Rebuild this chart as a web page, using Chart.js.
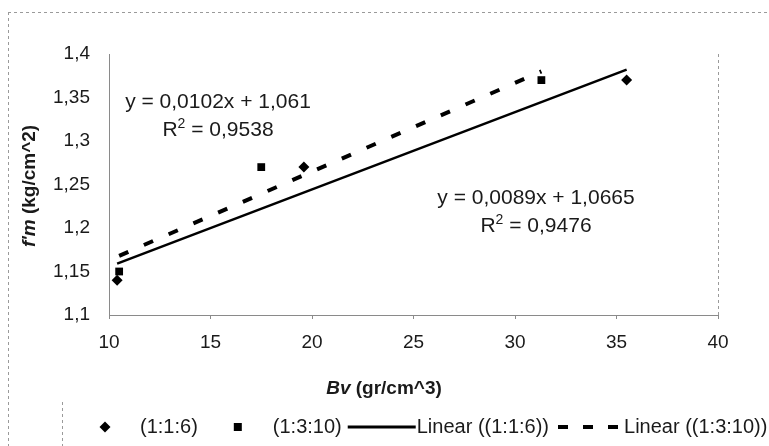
<!DOCTYPE html>
<html>
<head>
<meta charset="utf-8">
<script src="https://cdn.jsdelivr.net/npm/chart.js@4/dist/chart.umd.min.js"></script>
<style>
html,body{margin:0;padding:0;background:#fff;}
#wrap{width:769px;height:446px;position:relative;}
</style>
</head>
<body>
<div id="wrap"><canvas id="c"></canvas></div>
<script>
// ---- data ----
const seriesNames = ['(1:1:6)', '(1:3:10)', 'Linear ((1:1:6))', 'Linear ((1:3:10))'];
const bvA = [10.4, 19.6, 35.5];          // (1:1:6) x
const fmA = [1.14, 1.27, 1.37];          // (1:1:6) y
const bvB = [10.5, 17.5, 31.3];          // (1:3:10) x
const fmB = [1.15, 1.27, 1.37];          // (1:3:10) y
const trendAx = [10.4, 35.5];            // Linear (1:1:6) ends
const trendAy = [1.159, 1.382];
const trendBx = [10.5, 31.3];            // Linear (1:3:10) ends
const trendBy = [1.168, 1.380];
const xTicks = [10, 15, 20, 25, 30, 35, 40];
const yTicks = [1.1, 1.15, 1.2, 1.25, 1.3, 1.35, 1.4];
const eqA = ['y = 0,0089x + 1,0665', '0,9476'];
const eqB = ['y = 0,0102x + 1,061', '0,9538'];

const pts = (xs, ys) => xs.map((x, i) => ({x: x, y: ys[i]}));
const FONT = 'Arial, "Liberation Sans", sans-serif';
const INK = '#1a1a1a';
const fmtNum = v => (Math.round(v * 100) / 100).toString().replace('.', ',');

const overlay = {
  id: 'overlay',
  afterDraw(chart) {
    const ctx = chart.ctx;
    const ca = chart.chartArea;
    ctx.save();
    // scanned frame lines
    ctx.strokeStyle = '#9a9a9a';
    ctx.lineWidth = 1;
    ctx.setLineDash([3, 3]);
    ctx.beginPath();
    ctx.moveTo(8, 12.5); ctx.lineTo(769, 12.5);
    ctx.moveTo(8.5, 12); ctx.lineTo(8.5, 446);
    ctx.moveTo(Math.round(ca.right) + 0.5, ca.top); ctx.lineTo(Math.round(ca.right) + 0.5, ca.bottom);
    ctx.moveTo(62.5, 402); ctx.lineTo(62.5, 446);
    ctx.stroke();
    ctx.setLineDash([]);

    ctx.fillStyle = INK;
    ctx.textBaseline = 'middle';

    // axis titles (mixed italic)
    function mixed(parts, cx, cy) {
      let w = 0;
      parts.forEach(p => { ctx.font = p[1]; w += ctx.measureText(p[0]).width; });
      let x = cx - w / 2;
      parts.forEach(p => { ctx.font = p[1]; ctx.textAlign = 'left'; ctx.fillText(p[0], x, cy); x += ctx.measureText(p[0]).width; });
    }
    mixed([['Bv', 'italic bold 19px ' + FONT], [' (gr/cm^3)', 'bold 19px ' + FONT]], 384, 389);
    ctx.save();
    ctx.translate(30, 186);
    ctx.rotate(-Math.PI / 2);
    mixed([["f'm", 'italic bold 19px ' + FONT], [' (kg/cm^2)', 'bold 19px ' + FONT]], 0, 0);
    ctx.restore();

    // trendline equations
    function eq(lines, cx, cy) {
      ctx.font = '21px ' + FONT;
      ctx.textAlign = 'center';
      ctx.fillText(lines[0], cx, cy);
      const rest = ' = ' + lines[1];
      const wR = ctx.measureText('R').width;
      const wRest = ctx.measureText(rest).width;
      ctx.font = '14px ' + FONT;
      const w2 = ctx.measureText('2').width;
      let x = cx - (wR + w2 + wRest) / 2;
      const y2 = cy + 28;
      ctx.textAlign = 'left';
      ctx.font = '21px ' + FONT;
      ctx.fillText('R', x, y2); x += wR;
      ctx.font = '14px ' + FONT;
      ctx.fillText('2', x, y2 - 6); x += w2;
      ctx.font = '21px ' + FONT;
      ctx.fillText(rest, x, y2);
    }
    eq(eqB, 218, 102);
    eq(eqA, 536, 198);

    // legend (Excel style: 68px sample then label)
    const ly = 427;
    ctx.font = '20px ' + FONT;
    ctx.textAlign = 'left';
    const sampleW = 68, gap = 6;
    let x = 71;
    seriesNames.forEach((name, i) => {
      const cx = x + sampleW / 2;
      ctx.fillStyle = '#000';
      ctx.strokeStyle = '#000';
      if (i === 0) {
        ctx.beginPath();
        ctx.moveTo(cx, ly - 5.5); ctx.lineTo(cx + 5.5, ly); ctx.lineTo(cx, ly + 5.5); ctx.lineTo(cx - 5.5, ly); ctx.closePath(); ctx.fill();
      } else if (i === 1) {
        ctx.fillRect(cx - 4, ly - 4, 8, 8);
      } else if (i === 2) {
        ctx.lineWidth = 3;
        ctx.beginPath(); ctx.moveTo(x, ly); ctx.lineTo(x + sampleW, ly); ctx.stroke();
      } else {
        ctx.lineWidth = 4;
        ctx.setLineDash([10, 15]);
        ctx.beginPath(); ctx.moveTo(x + 3, ly); ctx.lineTo(x + sampleW, ly); ctx.stroke();
        ctx.setLineDash([]);
      }
      ctx.fillStyle = INK;
      ctx.fillText(name, x + sampleW + 1, ly);
      x += sampleW + 1 + ctx.measureText(name).width + gap;
    });
    ctx.restore();
  }
};

new Chart(document.getElementById('c'), {
  type: 'scatter',
  data: {
    datasets: [
      {label: seriesNames[0], data: pts(bvA, fmA), pointStyle: 'rectRot', pointRadius: 5.5,
       backgroundColor: '#000', borderColor: '#000', borderWidth: 0, order: 1},
      {label: seriesNames[1], data: pts(bvB, fmB), pointStyle: 'rect', pointRadius: 5.5,
       backgroundColor: '#000', borderColor: '#000', borderWidth: 0, order: 0},
      {label: seriesNames[2], data: pts(trendAx, trendAy), showLine: true, pointRadius: 0,
       borderColor: '#000', borderWidth: 2.5, order: 2},
      {label: seriesNames[3], data: pts(trendBx, trendBy), showLine: true, pointRadius: 0,
       borderColor: '#000', borderWidth: 4, borderDash: [10, 17], order: 3}
    ]
  },
  options: {
    responsive: true,
    maintainAspectRatio: false,
    animation: false,
    layout: {padding: {top: 54, right: 51, bottom: 46, left: 0}},
    plugins: {legend: {display: false}, tooltip: {enabled: false}},
    scales: {
      x: {
        type: 'linear', min: 10, max: 40,
        afterBuildTicks: s => { s.ticks = xTicks.map(v => ({value: v})); },
        afterFit: s => { s.height = 85; },
        grid: {display: true, drawOnChartArea: false, drawTicks: true, tickLength: 4, color: '#8a8a8a'},
        border: {display: true, color: '#8a8a8a', width: 1, dash: [2, 3]},
        ticks: {padding: 12, color: INK, font: {family: FONT, size: 19}, callback: v => fmtNum(v), maxRotation: 0}
      },
      y: {
        type: 'linear', min: 1.1, max: 1.4,
        afterBuildTicks: s => { s.ticks = yTicks.map(v => ({value: v})); },
        afterFit: s => { s.width = 109; },
        grid: {display: false, drawTicks: false},
        border: {display: true, color: '#8a8a8a', width: 1, dash: [2, 3]},
        ticks: {padding: 19, color: INK, font: {family: FONT, size: 19}, callback: v => fmtNum(v)}
      }
    }
  },
  plugins: [overlay]
});
</script>
</body>
</html>
